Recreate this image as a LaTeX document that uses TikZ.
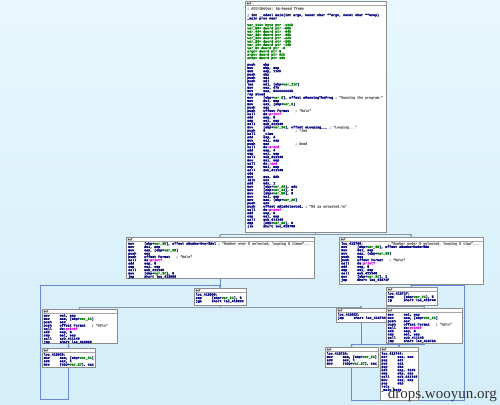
\documentclass[tikz,border=0pt]{standalone}
\usepackage{fontspec}
\usetikzlibrary{arrows.meta}
\newfontfamily\idafont{Liberation Mono}[BoldFeatures={FakeBold=1.6}]
\newfontfamily\wmfont{Liberation Serif}
\definecolor{idanavy}{RGB}{0,0,120}
\definecolor{idagreen}{RGB}{0,125,0}
\definecolor{idapink}{RGB}{230,0,230}
\definecolor{idagray}{RGB}{120,120,120}
\definecolor{bgtop}{RGB}{232,247,253}
\definecolor{bgbot}{RGB}{212,238,250}
\definecolor{jmpblue}{RGB}{105,135,215}
\definecolor{condgray}{RGB}{140,150,165}
\newcommand\idav[1]{\textcolor{idagreen}{#1}}
\newcommand\idaf[1]{\textcolor{idapink}{#1}}
\newcommand\idac[1]{\textcolor{idagray}{#1}}
\newcommand\idahl[1]{{\setlength{\fboxsep}{0pt}\colorbox{yellow}{#1}}}
\newcommand\iop[2]{\makebox[16pt][l]{#1}#2}
\newcommand\iopc[3]{\makebox[16pt][l]{#1}\makebox[32pt][l]{#2}\idac{#3}}
\newcommand\iopl[3]{\makebox[16pt][l]{#1}#2 \idac{#3}}
\pgfdeclarelayer{bg}
\pgfdeclarelayer{edges}
\pgfsetlayers{bg,edges,main}
\tikzset{
  blk/.style={draw=black!45, line width=0.6pt, fill=white, anchor=north west, inner sep=0pt, outer sep=0pt},
  txt/.style={anchor=north west, inner sep=0pt, align=left, text=idanavy,
    font=\idafont\bfseries\fontsize{3.33}{3.3}\selectfont},
  hdr/.style={draw=black!35, line width=0.5pt},
  hdrtxt/.style={anchor=west, inner sep=0pt, text=black!70, font=\idafont\bfseries\fontsize{2.6}{2.6}\selectfont},
  ejmp/.style={draw=jmpblue, line width=1pt, -{Stealth[length=2.2pt,width=2.4pt]}},
  econd/.style={draw=condgray, line width=0.8pt, -{Stealth[length=2.2pt,width=2.4pt]}}
}
\newcommand\idahead[1]{%
  \draw[hdr] ([yshift=-4.5pt]#1.north west) -- ([yshift=-4.5pt]#1.north east);
  \node[hdrtxt] at ([xshift=1.5pt,yshift=-2.3pt]#1.north west) {buf};}
\begin{document}
\begin{tikzpicture}[x=1pt,y=-1pt]
\useasboundingbox (0,0) rectangle (500,404);
\begin{pgfonlayer}{bg}
\shade[top color=bgtop, bottom color=bgbot] (0,0) rectangle (500,404);
\end{pgfonlayer}

% ---------- main block
\node[blk, minimum width=141pt, minimum height=231pt] (main) at (245,1) {};
\idahead{main}
\node[txt] at ([xshift=2pt,yshift=-5pt]main.north west) {%
\mbox{}\\
\idac{; Attributes: bp-based frame}\\
\mbox{}\\
; \idahl{int} \_\_cdecl main(\idahl{int} argc, const char **argv, const char **envp)\\
\_main proc near\\
\mbox{}\\
\idav{var\_11C= byte ptr -11Ch}\\
\idav{var\_50= dword ptr -50h}\\
\idav{var\_44= dword ptr -44h}\\
\idav{var\_38= dword ptr -38h}\\
\idav{var\_2C= dword ptr -2Ch}\\
\idav{var\_20= dword ptr -20h}\\
\idav{var\_14= dword ptr -14h}\\
\idav{var\_8= dword ptr -8}\\
\idav{argc= dword ptr  8}\\
\idav{argv= dword ptr  0Ch}\\
\idav{envp= dword ptr  10h}\\
\mbox{}\\
\iop{push}{ebp}\\
\iop{mov}{ebp, esp}\\
\iop{sub}{esp, 11Ch}\\
\iop{push}{ebx}\\
\iop{push}{esi}\\
\iop{push}{edi}\\
\iop{lea}{edi, [ebp+\idav{var\_11C}]}\\
\iop{mov}{ecx, 47h}\\
\iop{mov}{eax, 0CCCCCCCCh}\\
rep stosd\\
\iopl{mov}{[ebp+\idav{var\_8}], offset aRunningTheProg}{; "Running the program."}\\
\iop{mov}{esi, esp}\\
\iop{mov}{eax, [ebp+\idav{var\_8}]}\\
\iop{push}{eax}\\
\iopc{push}{offset Format}{; "\%s\textbackslash n"}\\
\iop{call}{ds:\idaf{printf}}\\
\iop{add}{esp, 8}\\
\iop{cmp}{esi, esp}\\
\iop{call}{sub\_411140}\\
\iopl{mov}{[ebp+\idav{var\_14}], offset aLooping\_\_\_}{; "Looping..."}\\
\iopc{push}{0}{; Time}\\
\iop{call}{\_time}\\
\iop{add}{esp, 4}\\
\iop{mov}{esi, esp}\\
\iopc{push}{eax}{; Seed}\\
\iop{call}{ds:\idaf{srand}}\\
\iop{add}{esp, 4}\\
\iop{cmp}{esi, esp}\\
\iop{call}{sub\_411140}\\
\iop{mov}{esi, esp}\\
\iop{call}{ds:\idaf{rand}}\\
\iop{cmp}{esi, esp}\\
\iop{call}{sub\_411140}\\
cdq\\
\iop{mov}{ecx, 0Ah}\\
\iop{idiv}{ecx}\\
\iop{add}{edx, 1}\\
\iop{mov}{[ebp+\idav{var\_20}], edx}\\
\iop{mov}{[ebp+\idav{var\_44}], 0}\\
\iop{mov}{[ebp+\idav{var\_50}], 0}\\
\iop{mov}{esi, esp}\\
\iop{mov}{eax, [ebp+\idav{var\_20}]}\\
\iop{push}{eax}\\
\iopl{push}{offset aDIsSelected\_}{; "\%d is selected.\textbackslash n"}\\
\iop{call}{ds:\idaf{printf}}\\
\iop{add}{esp, 8}\\
\iop{cmp}{esi, esp}\\
\iop{call}{sub\_411140}\\
\iop{cmp}{[ebp+\idav{var\_20}], 5}\\
\iop{jle}{short loc\_413700}};

% ---------- block A (over 5)
\node[blk, minimum width=188pt, minimum height=41pt] (A) at (126,237) {};
\idahead{A}
\node[txt] at ([xshift=2pt,yshift=-5pt]A.north west) {%
\iopl{mov}{[ebp+\idav{var\_38}], offset aNumberOver5Sel}{; "Number over 5 selected, looping 5 times"...}\\
\iop{mov}{esi, esp}\\
\iop{mov}{eax, [ebp+\idav{var\_38}]}\\
\iop{push}{eax}\\
\iopc{push}{offset Format}{; "\%s\textbackslash n"}\\
\iop{call}{ds:\idaf{printf}}\\
\iop{add}{esp, 8}\\
\iop{cmp}{esi, esp}\\
\iop{call}{sub\_411140}\\
\iop{mov}{[ebp+\idav{var\_2C}], 0}\\
\iop{jmp}{short loc\_4130D0}};

% ---------- block B (under 5)
\node[blk, minimum width=144pt, minimum height=47pt] (B) at (339,237) {};
\idahead{B}
\node[txt] at ([xshift=2pt,yshift=-5pt]B.north west) {%
\makebox[46pt][l]{loc\_413700:}\idac{; "Number under 5 selected, looping X time"...}\\
\iop{mov}{[ebp+\idav{var\_38}], offset aNumberUnder5Se}\\
\iop{mov}{esi, esp}\\
\iop{mov}{eax, [ebp+\idav{var\_38}]}\\
\iop{push}{eax}\\
\iopc{push}{offset Format}{; "\%s\textbackslash n"}\\
\iop{call}{ds:\idaf{printf}}\\
\iop{add}{esp, 8}\\
\iop{cmp}{esi, esp}\\
\iop{call}{sub\_411140}\\
\iop{mov}{[ebp+\idav{var\_2C}], 1}\\
\iop{jmp}{short loc\_41371F}};

% ---------- block C (loop test, left)
\node[blk, minimum width=52pt, minimum height=17pt] (C) at (194,288) {};
\idahead{C}
\node[txt] at ([xshift=1.5pt,yshift=-5pt]C.north west) {%
loc\_4130D0:\\
\iop{cmp}{[ebp+\idav{var\_2C}], 5}\\
\iop{jge}{short loc\_4130EE}};

% ---------- block D (loop body, left)
\node[blk, minimum width=75pt, minimum height=34pt] (D) at (42,309) {};
\idahead{D}
\node[txt] at ([xshift=1.5pt,yshift=-5pt]D.north west) {%
\iop{mov}{esi, esp}\\
\iop{mov}{eax, [ebp+\idav{var\_2C}]}\\
\iop{push}{eax}\\
\iopc{push}{offset Format}{; "\%d\textbackslash n"}\\
\iop{call}{ds:\idaf{printf}}\\
\iop{add}{esp, 8}\\
\iop{cmp}{esi, esp}\\
\iop{call}{sub\_411140}\\
\iop{jmp}{short loc\_4130E0}};

% ---------- block E (increment, left)
\node[blk, minimum width=53pt, minimum height=19pt] (E) at (42,348) {};
\idahead{E}
\node[txt] at ([xshift=1.5pt,yshift=-5pt]E.north west) {%
loc\_4130E0:\\
\iop{mov}{eax, [ebp+\idav{var\_2C}]}\\
\iop{add}{eax, 1}\\
\iop{mov}{[ebp+\idav{var\_2C}], eax}};

% ---------- block F (loop test, right)
\node[blk, minimum width=51pt, minimum height=18pt] (F) at (386,287) {};
\idahead{F}
\node[txt] at ([xshift=1.5pt,yshift=-5pt]F.north west) {%
loc\_41371F:\\
\iop{cmp}{[ebp+\idav{var\_2C}], 5}\\
\iop{jg}{short loc\_413744}};

% ---------- block G
\node[blk, minimum width=50pt, minimum height=14pt] (G) at (336,308) {};
\idahead{G}
\node[txt] at ([xshift=1.5pt,yshift=-5pt]G.north west) {%
loc\_4130EE:\\
\iop{jmp}{short loc\_413744}};

% ---------- block H (loop body, right)
\node[blk, minimum width=76pt, minimum height=35pt] (H) at (386,308) {};
\idahead{H}
\node[txt] at ([xshift=1.5pt,yshift=-5pt]H.north west) {%
\iop{mov}{esi, esp}\\
\iop{mov}{eax, [ebp+\idav{var\_2C}]}\\
\iop{push}{eax}\\
\iopc{push}{offset Format}{; "\%d\textbackslash n"}\\
\iop{call}{ds:\idaf{printf}}\\
\iop{add}{esp, 8}\\
\iop{cmp}{esi, esp}\\
\iop{call}{sub\_411140}\\
\iop{jmp}{short loc\_41372A}};

% ---------- block I (increment, right)
\node[blk, minimum width=53pt, minimum height=20pt] (I) at (325,347) {};
\idahead{I}
\node[txt] at ([xshift=1.5pt,yshift=-5pt]I.north west) {%
loc\_41372A:\\
\iop{mov}{eax, [ebp+\idav{var\_2C}]}\\
\iop{add}{eax, 1}\\
\iop{mov}{[ebp+\idav{var\_2C}], eax}};

% ---------- block J (epilogue)
\node[blk, minimum width=38pt, minimum height=53pt] (J) at (380,347) {};
\idahead{J}
\node[txt] at ([xshift=1.2pt,yshift=-5pt]J.north west) {%
loc\_413744:\\
\iop{xor}{eax, eax}\\
\iop{pop}{edi}\\
\iop{pop}{esi}\\
\iop{pop}{ebx}\\
\iop{add}{esp, 11Ch}\\
\iop{cmp}{ebp, esp}\\
\iop{call}{sub\_411140}\\
\iop{mov}{esp, ebp}\\
\iop{pop}{ebp}\\
retn\\
\_main endp};

% ---------- connectors
\coordinate (l1) at (40,399);
\coordinate (l2) at (40,285.5);
\coordinate (r1) at (464,400);
\coordinate (r2) at (464,285.5);
\coordinate (gh) at (386,344.5);
\begin{pgfonlayer}{edges}
\draw[econd] (main.south) -- ++(0,2.5) -| (A.north);
\draw[econd] (main.south) -- ++(0,2.5) -| (B.north);
\draw[ejmp] (A.south) -- (A.south |- C.north);
\draw[ejmp] (E.south) |- (l1) -- (l2) -| (C.north);
\draw[econd] (C.south) -- ++(0,2) -| (D.north);
\draw[econd] (C.south) -- ++(0,2) -| (G.north);
\draw[ejmp] (D.south -| E.north) -- (E.north);
\draw[ejmp] (F.north |- B.south) -- (F.north);
\draw[ejmp] (I.south) |- (r1) -- (r2) -| (F.north);
\draw[econd] (F.south) -- ++(0,1.5) -| (H.north);
\draw[econd] (F.south) -- ++(0,1.5) -| (gh) -| (J.north);
\draw[ejmp] (G.south) -- (G.south |- gh) -| (J.north);
\draw[ejmp] (H.south) -- ++(0,1.5) -| (I.north);
\end{pgfonlayer}

% ---------- watermark
\node[anchor=base east, inner sep=0pt, text=black!80, font=\wmfont\fontsize{15}{15}\selectfont] (wm) at (497,398) {drops.wooyun.org};
\end{tikzpicture}
\end{document}
